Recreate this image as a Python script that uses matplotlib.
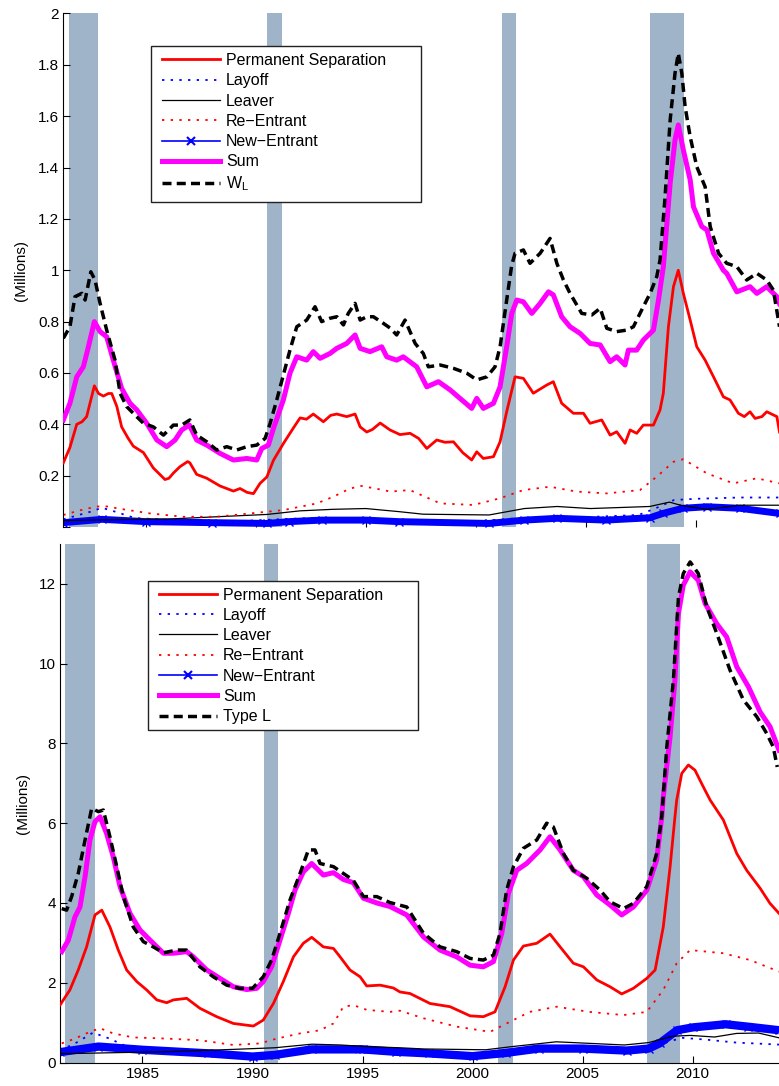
import numpy as np
import matplotlib
matplotlib.use('Agg')
import matplotlib.pyplot as plt
from matplotlib.lines import Line2D
from matplotlib.patches import Rectangle

plt.rcParams['font.family'] = ['Liberation Sans', 'DejaVu Sans']

# recessions (NBER)
recessions = [(1981.5, 1982.83), (1990.5, 1991.17), (2001.17, 2001.83), (2007.92, 2009.45)]

# ---------------- top panel: W_L (millions) ----------------
perm_top_t = [1981.25, 1981.55, 1981.86, 1982.1, 1982.31, 1982.66, 1982.85, 1983.07, 1983.3, 1983.45, 1983.68, 1983.9,
              1984.2, 1984.43, 1984.89, 1985.34, 1985.87, 1986.05, 1986.25, 1986.55, 1986.9, 1987.0, 1987.31, 1987.77,
              1988.37, 1988.98, 1989.28, 1989.6, 1989.89, 1990.19, 1990.5, 1990.8, 1991.25, 1991.7, 1992.01, 1992.3,
              1992.61, 1993.07, 1993.4, 1993.68, 1994.13, 1994.51, 1994.74, 1995.04, 1995.3, 1995.65, 1996.1, 1996.55,
              1997.01, 1997.4, 1997.77, 1998.22, 1998.6, 1998.98, 1999.4, 1999.81, 2000.04, 2000.34, 2000.8, 2001.1,
              2001.4, 2001.78, 2002.16, 2002.61, 2003.22, 2003.52, 2003.9, 2004.43, 2004.89, 2005.19, 2005.72, 2006.1,
              2006.4, 2006.78, 2007.01, 2007.31, 2007.61, 2008.07, 2008.37, 2008.52, 2008.75, 2008.98, 2009.2, 2009.43,
              2009.74, 2010.04, 2010.42, 2010.8, 2011.25, 2011.55, 2011.93, 2012.2, 2012.46, 2012.69, 2013.0, 2013.22,
              2013.68, 2013.8]
perm_top_v = [0.25, 0.31, 0.40, 0.41, 0.43, 0.55, 0.52, 0.51, 0.52, 0.52, 0.47, 0.39,
              0.345, 0.315, 0.29, 0.23, 0.185, 0.19, 0.21, 0.235, 0.255, 0.25, 0.205, 0.19,
              0.16, 0.14, 0.15, 0.135, 0.13, 0.17, 0.195, 0.26, 0.325, 0.385, 0.425, 0.42,
              0.44, 0.41, 0.435, 0.44, 0.43, 0.44, 0.39, 0.37, 0.38, 0.405, 0.378, 0.36,
              0.365, 0.345, 0.306, 0.339, 0.33, 0.332, 0.29, 0.261, 0.293, 0.267, 0.274, 0.332,
              0.449, 0.585, 0.579, 0.521, 0.553, 0.566, 0.482, 0.443, 0.443, 0.404, 0.417, 0.358,
              0.371, 0.326, 0.378, 0.365, 0.397, 0.397, 0.456, 0.521, 0.78, 0.936, 1.0, 0.91,
              0.806, 0.702, 0.65, 0.585, 0.507, 0.495, 0.443, 0.43, 0.449, 0.423, 0.43, 0.449,
              0.43, 0.37]

sum_top_t = [1981.25, 1981.55, 1981.86, 1982.16, 1982.39, 1982.66, 1982.92, 1983.22, 1983.52, 1983.9, 1984.28, 1984.59,
             1985.04, 1985.5, 1985.95, 1986.33, 1986.63, 1986.98, 1987.31, 1987.77, 1988.37, 1988.98, 1989.59, 1990.04,
             1990.27, 1990.57, 1990.8, 1991.25, 1991.55, 1991.86, 1992.31, 1992.61, 1992.92, 1993.37, 1993.68, 1994.13,
             1994.51, 1994.74, 1995.19, 1995.72, 1995.95, 1996.4, 1996.7, 1997.31, 1997.77, 1998.3, 1998.83, 1999.36,
             1999.81, 2000.04, 2000.34, 2000.8, 2001.1, 2001.4, 2001.63, 2001.86, 2002.16, 2002.54, 2002.92, 2003.3,
             2003.52, 2003.9, 2004.28, 2004.74, 2005.19, 2005.65, 2006.1, 2006.4, 2006.78, 2006.93, 2007.31, 2007.61,
             2008.07, 2008.3, 2008.52, 2008.83, 2009.05, 2009.2, 2009.43, 2009.74, 2009.89, 2010.27, 2010.5, 2010.8,
             2011.25, 2011.4, 2011.86, 2012.46, 2012.77, 2013.22, 2013.68, 2013.8]
sum_top_v = [0.417, 0.482, 0.585, 0.624, 0.702, 0.80, 0.761, 0.741, 0.65, 0.54, 0.482, 0.456,
             0.404, 0.339, 0.313, 0.339, 0.378, 0.397, 0.339, 0.319, 0.287, 0.261, 0.267, 0.261,
             0.306, 0.319, 0.384, 0.495, 0.599, 0.663, 0.65, 0.683, 0.657, 0.676, 0.696, 0.715,
             0.748, 0.696, 0.683, 0.702, 0.663, 0.65, 0.663, 0.624, 0.546, 0.566, 0.534, 0.495,
             0.462, 0.501, 0.462, 0.482, 0.546, 0.702, 0.832, 0.884, 0.877, 0.832, 0.871, 0.916,
             0.904, 0.819, 0.78, 0.754, 0.715, 0.709, 0.644, 0.663, 0.631, 0.689, 0.689, 0.728,
             0.767, 0.884, 1.014, 1.339, 1.507, 1.566, 1.468, 1.352, 1.247, 1.17, 1.157, 1.066,
             1.0, 0.988, 0.916, 0.936, 0.91, 0.936, 0.897, 0.87]

wl_top_t = [1981.25, 1981.55, 1981.78, 1982.09, 1982.24, 1982.5, 1982.69, 1982.92, 1983.22, 1983.6, 1983.83, 1984.13,
            1984.43, 1984.89, 1985.34, 1985.8, 1986.25, 1986.63, 1987.0, 1987.31, 1987.77, 1988.22, 1988.68, 1989.13,
            1989.59, 1990.04, 1990.42, 1990.65, 1990.95, 1991.25, 1991.55, 1991.86, 1992.31, 1992.69, 1992.99, 1993.37,
            1993.68, 1993.98, 1994.2, 1994.51, 1994.74, 1995.04, 1995.34, 1995.8, 1996.1, 1996.4, 1996.78, 1997.24,
            1997.61, 1997.84, 1998.38, 1998.98, 1999.59, 2000.04, 2000.5, 2000.87, 2001.1, 2001.4, 2001.63, 2001.78,
            2002.16, 2002.46, 2002.92, 2003.37, 2003.68, 2003.98, 2004.28, 2004.81, 2005.27, 2005.65, 2005.95, 2006.4,
            2006.86, 2007.16, 2007.61, 2007.92, 2008.22, 2008.37, 2008.6, 2008.83, 2009.05, 2009.2, 2009.36, 2009.51,
            2009.74, 2010.04, 2010.42, 2010.65, 2011.03, 2011.4, 2011.86, 2012.31, 2012.77, 2013.22, 2013.52, 2013.8]
wl_top_v = [0.735, 0.78, 0.897, 0.91, 0.884, 0.994, 0.962, 0.871, 0.767, 0.65, 0.521, 0.469,
            0.443, 0.404, 0.39, 0.358, 0.397, 0.397, 0.417, 0.358, 0.332, 0.30, 0.313, 0.30,
            0.313, 0.319, 0.345, 0.404, 0.495, 0.592, 0.689, 0.78, 0.806, 0.858, 0.80, 0.813,
            0.819, 0.787, 0.832, 0.871, 0.806, 0.819, 0.819, 0.793, 0.775, 0.748, 0.806, 0.715,
            0.676, 0.624, 0.631, 0.618, 0.599, 0.573, 0.585, 0.624, 0.702, 0.884, 1.02, 1.066,
            1.079, 1.027, 1.066, 1.124, 1.027, 0.962, 0.91, 0.832, 0.826, 0.852, 0.774, 0.761,
            0.767, 0.78, 0.858, 0.91, 0.975, 1.04, 1.287, 1.585, 1.767, 1.845, 1.767, 1.637,
            1.52, 1.403, 1.325, 1.17, 1.066, 1.027, 1.014, 0.962, 0.988, 0.962, 0.923, 0.78]

reent_top_t = [1981.25, 1982.0, 1982.77, 1983.3, 1983.68, 1985.19, 1986.7, 1988.2, 1989.74, 1991.25, 1992.77, 1993.52,
               1994.28, 1994.8, 1995.8, 1996.1, 1997.0, 1998.38, 1999.89, 2001.1, 2002.16, 2003.37, 2004.58, 2005.95,
               2007.46, 2008.22, 2008.98, 2009.43, 2010.5, 2011.7, 2012.77, 2013.8]
reent_top_v = [0.047, 0.065, 0.08, 0.08, 0.073, 0.053, 0.04, 0.04, 0.053, 0.066, 0.092, 0.118,
               0.15, 0.16, 0.144, 0.138, 0.144, 0.092, 0.086, 0.112, 0.144, 0.157, 0.138, 0.131,
               0.144, 0.196, 0.254, 0.264, 0.209, 0.17, 0.19, 0.17]

leaver_top_t = [1981.25, 1983.0, 1986.0, 1988.2, 1990.5, 1992.0, 1993.5, 1995.0, 1996.5, 1997.6, 2000.6, 2002.2,
                2003.7, 2005.2, 2007.9, 2008.8, 2009.3, 2010.5, 2012.0, 2013.8]
leaver_top_v = [0.025, 0.028, 0.031, 0.04, 0.049, 0.063, 0.069, 0.072, 0.06, 0.05, 0.047, 0.072,
                0.08, 0.072, 0.08, 0.097, 0.085, 0.069, 0.085, 0.085]

layoff_top_t = [1981.25, 1982.5, 1983.0, 1983.6, 1984.5, 1986.0, 1989.0, 1991.0, 1992.5, 1995.0, 2000.0, 2002.0,
                2004.0, 2007.4, 2008.2, 2009.0, 2010.0, 2012.0, 2013.8]
layoff_top_v = [0.03, 0.06, 0.075, 0.06, 0.035, 0.028, 0.022, 0.03, 0.035, 0.03, 0.022, 0.035,
                0.035, 0.047, 0.074, 0.105, 0.11, 0.115, 0.115]

newent_top_t = [1981.25, 1983.0, 1985.0, 1988.0, 1990.5, 1991.5, 1993.0, 1995.0, 1996.5, 2000.6, 2002.2, 2003.7,
                2005.9, 2007.9, 2008.5, 2009.4, 2010.5, 2012.0, 2013.8]
newent_top_v = [0.017, 0.03, 0.021, 0.017, 0.014, 0.021, 0.027, 0.027, 0.021, 0.014, 0.027, 0.034,
                0.027, 0.036, 0.053, 0.073, 0.079, 0.073, 0.053]

# ---------------- bottom panel: Type L (millions) ----------------
perm_bot_t = [1981.25, 1981.7, 1982.08, 1982.46, 1982.84, 1983.15, 1983.52, 1983.9, 1984.28, 1984.74, 1985.19, 1985.65,
              1986.1, 1986.4, 1987.01, 1987.61, 1988.37, 1989.13, 1990.04, 1990.49, 1990.95, 1991.4, 1991.86, 1992.31,
              1992.69, 1993.22, 1993.68, 1993.98, 1994.43, 1994.89, 1995.19, 1995.8, 1996.4, 1996.7, 1997.16, 1998.07,
              1998.98, 1999.89, 2000.49, 2001.02, 2001.48, 2001.86, 2002.31, 2002.92, 2003.52, 2003.98, 2004.58, 2005.04,
              2005.65, 2006.25, 2006.78, 2007.31, 2007.92, 2008.3, 2008.67, 2008.98, 2009.2, 2009.28, 2009.51, 2009.81,
              2010.11, 2010.49, 2010.8, 2011.4, 2012.01, 2012.46, 2013.07, 2013.52, 2013.93]
perm_bot_v = [1.44, 1.82, 2.32, 2.9, 3.7, 3.82, 3.4, 2.82, 2.32, 2.03, 1.82, 1.57,
              1.5, 1.57, 1.61, 1.36, 1.15, 0.98, 0.915, 1.065, 1.48, 2.03, 2.65, 2.99,
              3.14, 2.9, 2.86, 2.65, 2.32, 2.15, 1.92, 1.94, 1.87, 1.77, 1.73, 1.48,
              1.4, 1.17, 1.15, 1.27, 1.9, 2.57, 2.92, 2.99, 3.22, 2.9, 2.49, 2.4,
              2.07, 1.9, 1.72, 1.86, 2.11, 2.32, 3.4, 4.91, 6.16, 6.58, 7.25, 7.46,
              7.33, 6.91, 6.58, 6.08, 5.24, 4.82, 4.37, 3.99, 3.74]

sum_bot_t = [1981.33, 1981.63, 1981.93, 1982.16, 1982.39, 1982.61, 1982.84, 1983.07, 1983.37, 1983.67, 1983.98, 1984.43,
             1984.89, 1985.34, 1985.95, 1986.4, 1987.01, 1987.31, 1987.92, 1988.52, 1989.13, 1989.74, 1990.19, 1990.49,
             1990.87, 1991.25, 1991.63, 1991.93, 1992.31, 1992.69, 1993.22, 1993.68, 1994.13, 1994.58, 1995.04, 1995.65,
             1996.25, 1997.01, 1997.77, 1998.52, 1999.28, 1999.89, 2000.49, 2000.95, 2001.33, 2001.63, 2002.01, 2002.46,
             2003.07, 2003.52, 2003.98, 2004.58, 2005.04, 2005.65, 2006.25, 2006.78, 2007.31, 2007.92, 2008.37, 2008.6,
             2008.67, 2008.98, 2009.2, 2009.36, 2009.58, 2009.89, 2010.26, 2010.57, 2011.1, 2011.55, 2012.01, 2012.54,
             2013.07, 2013.52, 2013.93]
sum_bot_v = [2.78, 3.07, 3.65, 3.9, 4.66, 5.58, 6.04, 6.16, 5.74, 5.16, 4.41, 3.74,
             3.32, 3.07, 2.74, 2.74, 2.78, 2.65, 2.32, 2.11, 1.9, 1.83, 1.86, 2.03,
             2.4, 3.07, 3.74, 4.32, 4.78, 4.99, 4.7, 4.76, 4.59, 4.51, 4.12, 4.0,
             3.91, 3.7, 3.15, 2.82, 2.65, 2.44, 2.4, 2.53, 3.24, 4.24, 4.82, 4.99,
             5.33, 5.66, 5.33, 4.82, 4.66, 4.2, 3.95, 3.7, 3.9, 4.32, 5.08, 6.16,
             6.66, 8.17, 9.59, 11.26, 11.97, 12.3, 12.09, 11.51, 11.0, 10.67, 9.92, 9.42,
             8.79, 8.42, 7.83]

typel_bot_t = [1981.33, 1981.55, 1981.78, 1982.08, 1982.39, 1982.69, 1983.0, 1983.22, 1983.52, 1983.83, 1984.13, 1984.58,
               1985.04, 1985.49, 1985.95, 1986.55, 1987.0, 1987.61, 1988.22, 1988.83, 1989.4, 1990.0, 1990.49, 1990.87,
               1991.25, 1991.7, 1992.16, 1992.54, 1992.84, 1993.07, 1993.68, 1994.13, 1994.58, 1995.04, 1995.65, 1996.25,
               1997.01, 1997.77, 1998.52, 1999.28, 1999.89, 2000.49, 2000.95, 2001.25, 2001.55, 2001.86, 2002.31, 2002.92,
               2003.37, 2003.67, 2004.13, 2004.58, 2005.19, 2005.8, 2006.25, 2006.86, 2007.31, 2007.92, 2008.37, 2008.6,
               2008.83, 2009.13, 2009.36, 2009.58, 2009.89, 2010.26, 2010.65, 2011.1, 2011.7, 2012.31, 2012.92, 2013.37,
               2013.67, 2013.85]
typel_bot_v = [3.86, 3.82, 4.16, 4.74, 5.58, 6.37, 6.29, 6.33, 5.66, 4.91, 4.16, 3.4,
               3.03, 2.9, 2.75, 2.82, 2.82, 2.4, 2.15, 1.94, 1.86, 1.86, 2.15, 2.57,
               3.24, 4.07, 4.74, 5.33, 5.33, 4.99, 4.91, 4.74, 4.57, 4.16, 4.16, 4.01,
               3.9, 3.24, 2.9, 2.78, 2.61, 2.57, 2.69, 3.24, 4.32, 4.91, 5.37, 5.58,
               6.0, 5.91, 5.24, 4.82, 4.62, 4.32, 4.03, 3.86, 3.99, 4.41, 5.24, 6.16,
               7.91, 9.59, 11.67, 12.26, 12.55, 12.26, 11.42, 10.76, 9.84, 9.09, 8.67, 8.25,
               7.91, 7.41]

reent_bot_t = [1981.33, 1981.93, 1982.61, 1983.07, 1983.67, 1984.58, 1986.1, 1987.6, 1989.13, 1990.34, 1991.1, 1992.16,
               1993.07, 1993.68, 1994.13, 1994.58, 1995.2, 1996.25, 1996.7, 1997.77, 1999.28, 2000.8, 2001.55, 2002.6,
               2003.83, 2005.3, 2006.86, 2007.92, 2008.67, 2009.28, 2009.89, 2011.4, 2012.61, 2013.93]
reent_bot_v = [0.48, 0.6, 0.77, 0.86, 0.73, 0.63, 0.6, 0.56, 0.44, 0.48, 0.6, 0.73,
               0.81, 0.98, 1.4, 1.44, 1.32, 1.27, 1.3, 1.11, 0.9, 0.77, 0.98, 1.27,
               1.4, 1.27, 1.19, 1.27, 1.82, 2.49, 2.82, 2.74, 2.57, 2.28]

leaver_bot_t = [1981.25, 1984.0, 1986.0, 1989.13, 1991.0, 1992.7, 1994.0, 1995.2, 1996.7, 1997.8, 2000.6, 2001.8,
                2003.8, 2006.9, 2008.0, 2009.1, 2009.9, 2011.0, 2012.0, 2013.0, 2013.93]
leaver_bot_v = [0.22, 0.25, 0.27, 0.33, 0.37, 0.46, 0.44, 0.4, 0.37, 0.34, 0.32, 0.4,
                0.52, 0.44, 0.5, 0.66, 0.68, 0.64, 0.73, 0.74, 0.62]

layoff_bot_t = [1981.25, 1982.0, 1982.75, 1983.5, 1984.5, 1986.0, 1990.0, 1991.0, 1992.5, 1995.0, 2000.0, 2002.0,
                2004.0, 2007.0, 2008.5, 2009.5, 2010.5, 2012.0, 2013.93]
layoff_bot_v = [0.3, 0.5, 0.75, 0.6, 0.35, 0.25, 0.15, 0.25, 0.3, 0.25, 0.15, 0.3,
                0.3, 0.3, 0.45, 0.62, 0.58, 0.5, 0.45]

newent_bot_t = [1981.25, 1983.0, 1985.0, 1988.0, 1990.0, 1991.0, 1992.7, 1995.0, 1996.5, 1998.0, 2000.0, 2001.5,
                2003.0, 2005.0, 2007.0, 2008.0, 2008.5, 2009.3, 2010.0, 2011.5, 2012.5, 2013.93]
newent_bot_v = [0.26, 0.40, 0.32, 0.23, 0.15, 0.19, 0.33, 0.33, 0.27, 0.23, 0.16, 0.24,
                0.35, 0.35, 0.3, 0.35, 0.48, 0.81, 0.88, 0.96, 0.9, 0.81]

labels = ['Permanent Separation', 'Layoff', 'Leaver', 'Re\u2212Entrant', 'New\u2212Entrant', 'Sum']

RED = '#ff0000'
BLUE = '#0000ff'
MAG = '#ff00ff'
SHADE = '#a0b4c9'
DOT = (0, (1.3, 3.5))


def draw_panel(ax, d, last_label, ylim, yticks, band_lw, legend_anchor, legend_box):
    for a, b in recessions:
        ax.axvspan(a, b, color=SHADE, lw=0, zorder=0)
    ax.plot(d['newent'][0], d['newent'][1], color=BLUE, lw=band_lw, solid_capstyle='butt', zorder=2)
    ax.plot(d['newent'][0], d['newent'][1], color=BLUE, lw=1, ls='none', marker='x', ms=6, mew=1, zorder=2)
    ax.plot(d['layoff'][0], d['layoff'][1], color=BLUE, lw=1.3, ls=DOT, zorder=2)
    ax.plot(d['leaver'][0], d['leaver'][1], color='k', lw=0.9, zorder=2)
    ax.plot(d['reent'][0], d['reent'][1], color=RED, lw=1.3, ls=DOT, zorder=2)
    ax.plot(d['perm'][0], d['perm'][1], color=RED, lw=2, zorder=3)
    ax.plot(d['sum'][0], d['sum'][1], color=MAG, lw=3.6, zorder=3)
    ax.plot(d['tot'][0], d['tot'][1], color='k', lw=2.5, ls=(0, (2.6, 1.5)), zorder=4)

    ax.set_xlim(1981.25, 2014.0)
    ax.set_ylim(*ylim)
    ax.set_yticks(yticks)
    ax.set_xticks([1985, 1990, 1995, 2000, 2005, 2010])
    ax.yaxis.set_major_formatter(matplotlib.ticker.FormatStrFormatter('%g'))
    ax.tick_params(direction='in', length=5, width=0.8, labelsize=11, pad=3)
    for s in ['top', 'right']:
        ax.spines[s].set_visible(False)
    ax.spines['left'].set_linewidth(0.8)
    ax.spines['bottom'].set_linewidth(0.8)

    x0, y0, x1, y1 = legend_box
    ax.add_patch(Rectangle((x0, y0), x1 - x0, y1 - y0, transform=ax.transAxes,
                           facecolor='white', edgecolor='#222222', lw=1.0, zorder=5))
    handles = [
        Line2D([], [], color=RED, lw=2),
        Line2D([], [], color=BLUE, lw=1.3, ls=DOT),
        Line2D([], [], color='k', lw=0.9),
        Line2D([], [], color=RED, lw=1.3, ls=DOT),
        Line2D([], [], color=BLUE, lw=1.2, marker='x', ms=6, mew=1.5),
        Line2D([], [], color=MAG, lw=3.6),
        Line2D([], [], color='k', lw=2.5, ls=(0, (2.6, 1.5))),
    ]
    leg = ax.legend(handles, labels + [last_label], loc='upper left', bbox_to_anchor=legend_anchor,
                    frameon=False, borderpad=0, borderaxespad=0, fontsize=11.5,
                    handlelength=3.6, handletextpad=0.4, labelspacing=0.33)
    leg.set_zorder(6)


fig = plt.figure(figsize=(7.79, 10.86), dpi=100)
ax1 = fig.add_axes([0.0813, 0.5147, 0.925, 0.4729])
ax2 = fig.add_axes([0.0770, 0.0216, 0.925, 0.4775])

top = {'perm': (perm_top_t, perm_top_v), 'sum': (sum_top_t, sum_top_v), 'tot': (wl_top_t, wl_top_v),
       'reent': (reent_top_t, reent_top_v), 'leaver': (leaver_top_t, leaver_top_v),
       'layoff': (layoff_top_t, layoff_top_v), 'newent': (newent_top_t, newent_top_v)}
bot = {'perm': (perm_bot_t, perm_bot_v), 'sum': (sum_bot_t, sum_bot_v), 'tot': (typel_bot_t, typel_bot_v),
       'reent': (reent_bot_t, reent_bot_v), 'leaver': (leaver_bot_t, leaver_bot_v),
       'layoff': (layoff_bot_t, layoff_bot_v), 'newent': (newent_bot_t, newent_bot_v)}

draw_panel(ax1, top, r'W$_\mathregular{L}$', (0, 2), np.arange(0, 2.01, 0.2), 5,
           (0.137, 0.923), (0.1217, 0.6329, 0.4965, 0.9367))
draw_panel(ax2, bot, 'Type L', (0, 13), np.arange(0, 13, 2), 6,
           (0.1378, 0.916), (0.1221, 0.6409, 0.4969, 0.9286))

ax1.set_yticklabels([''] + ['%g' % v for v in np.arange(0.2, 2.01, 0.2)])
ax1.tick_params(labelbottom=False)
ax1.spines['bottom'].set_visible(False)

for ax, lx in [(ax1, -0.049), (ax2, -0.0416)]:
    ax.set_ylabel('(Millions)', fontsize=11)
    ax.yaxis.set_label_coords(lx, 0.5)

fig.savefig('out.png', dpi=100)
